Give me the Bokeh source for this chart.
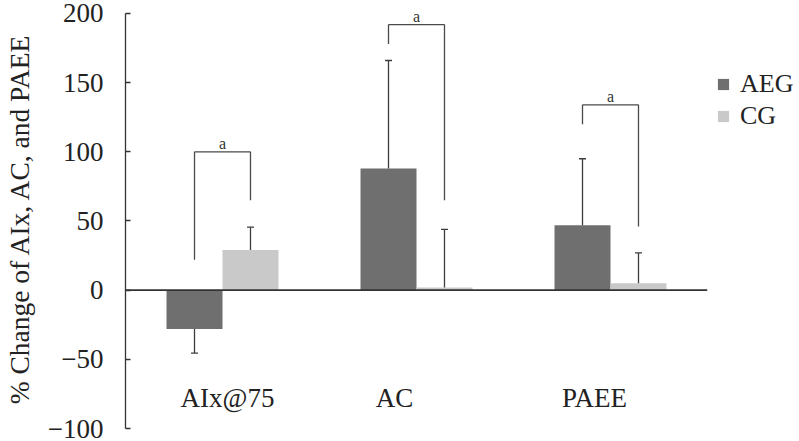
import numpy as np
from bokeh.plotting import figure
from bokeh.models import ColumnDataSource, FactorRange, Range1d, Span, Legend, LegendItem
from bokeh.transform import dodge
from bokeh.core.properties import value
from bokeh.embed import file_html
from bokeh.resources import INLINE

categories = ["AIx@75", "AC", "PAEE"]
aeg_mean = [-28, 88, 47]
aeg_sd = [17.5, 78, 48]
cg_mean = [29, 2, 5]
cg_sd = [16.5, 42, 22]
bracket_top = [100, 192, 134]
bracket_aeg_end = [22, 178, 120]
bracket_cg_end = [65, 65, 46]
sig_text = ["a", "a", "a"]
y_ticks = [-100, -50, 0, 50, 100, 150, 200]

# layout: horizontal nudges (px) of the category labels, as in the original
LABEL_DX = [5, -22, -16]
LABEL_Y = -78

FONT = "Liberation Serif"
AEG_COLOR = "#6f6f6f"
CG_COLOR = "#c9c9c9"
LINE_COLOR = "#3c3c3c"

aeg_m = np.array(aeg_mean, float)
cg_m = np.array(cg_mean, float)
src = ColumnDataSource(dict(
    cat=categories,
    aeg=aeg_m,
    cg=cg_m,
    aeg_end=aeg_m + np.sign(aeg_m) * np.array(aeg_sd),
    cg_end=cg_m + np.sign(cg_m) * np.array(cg_sd),
    btop=bracket_top,
    baeg=bracket_aeg_end,
    bcg=bracket_cg_end,
    sig=sig_text,
    lab_y=[LABEL_Y] * len(categories),
    lab_dx=LABEL_DX,
))

p = figure(x_range=FactorRange(*categories), y_range=Range1d(-100, 203.6),
           frame_width=582, frame_height=420, output_backend="svg", toolbar_location=None,
           x_axis_location=None, min_border_left=119, min_border_top=8,
           min_border_bottom=10, min_border_right=82)
p.outline_line_color = None
p.grid.visible = False

off = 0.1443
w = 0.2886
r1 = p.vbar(x=dodge("cat", -off, range=p.x_range), top="aeg", bottom=0, width=w,
            source=src, fill_color=AEG_COLOR, line_color=None)
r2 = p.vbar(x=dodge("cat", off, range=p.x_range), top="cg", bottom=0, width=w,
            source=src, fill_color=CG_COLOR, line_color=None)

# error bars
for o, m, e in [(-off, "aeg", "aeg_end"), (off, "cg", "cg_end")]:
    xd = dodge("cat", o, range=p.x_range)
    p.segment(x0=xd, x1=xd, y0=m, y1=e, source=src, line_color=LINE_COLOR, line_width=1.3)
    p.scatter(x=xd, y=e, marker="dash", size=7, source=src, line_color=LINE_COLOR, line_width=1.3)

# baseline
p.add_layout(Span(location=0, dimension="width", line_color="#333333", line_width=1.6))

# significance brackets
xl = dodge("cat", -off, range=p.x_range)
xr = dodge("cat", off, range=p.x_range)
p.segment(x0=xl, x1=xl, y0="baeg", y1="btop", source=src, line_color="#4a4a4a", line_width=1.3)
p.segment(x0=xr, x1=xr, y0="bcg", y1="btop", source=src, line_color="#4a4a4a", line_width=1.3)
p.segment(x0=xl, x1=xr, y0="btop", y1="btop", source=src, line_color="#4a4a4a", line_width=1.3)
p.text(x="cat", y="btop", text="sig", source=src, y_offset=-8, text_align="center",
       text_baseline="alphabetic", text_font=value(FONT), text_font_size="16px",
       text_color="#333333")

# category labels
p.text(x="cat", y="lab_y", text="cat", x_offset="lab_dx", source=src, text_align="center",
       text_baseline="middle", text_font=value(FONT), text_font_size="27px", text_color="#222222")

# y axis
ax = p.yaxis[0]
ax.ticker = y_ticks
ax.bounds = (-100, 200)
ax.major_label_overrides = {-100: "\u2212100", -50: "\u221250"}
ax.major_tick_in = 5
ax.major_tick_out = 0
ax.minor_tick_line_color = None
ax.axis_line_color = "#333333"
ax.axis_line_width = 1.3
ax.major_tick_line_color = "#333333"
ax.major_tick_line_width = 1.3
ax.major_label_standoff = 22
ax.major_label_text_font = FONT
ax.major_label_text_font_size = "27px"
ax.major_label_text_color = "#222222"
ax.axis_label = "% Change of AIx, AC, and PAEE"
ax.axis_label_text_font = FONT
ax.axis_label_text_font_size = "27.5px"
ax.axis_label_text_font_style = "normal"
ax.axis_label_text_color = "#222222"
ax.axis_label_standoff = 10

legend = Legend(items=[LegendItem(label="AEG", renderers=[r1]),
                       LegendItem(label="CG", renderers=[r2])],
                location="top_left", margin=9, padding=0, spacing=2,
                title=" ", title_text_font_size="1px", title_standoff=51,
                glyph_width=14, glyph_height=14, label_standoff=10,
                label_text_font=FONT, label_text_font_size="26px",
                label_text_color="#222222", border_line_color=None,
                background_fill_alpha=0)
p.add_layout(legend, "right")

open("out.html", "w").write(file_html(p, INLINE))
